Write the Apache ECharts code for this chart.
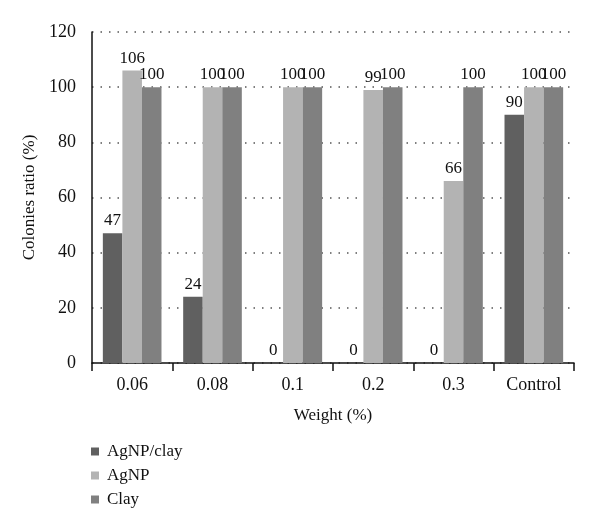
<!DOCTYPE html>
<html><head><meta charset="utf-8">
<script src="https://cdn.jsdelivr.net/npm/echarts@6/dist/echarts.min.js"></script>
<style>html,body{margin:0;padding:0;background:#fff}#c{width:600px;height:532px}</style>
</head><body><div id="c"></div>
<script>
const categories = ['0.06', '0.08', '0.1', '0.2', '0.3', 'Control'];
const agnpClay = [47, 24, 0, 0, 0, 90];
const agnp = [106, 100, 100, 99, 66, 100];
const clay = [100, 100, 100, 100, 100, 100];
const yTicks = [0, 20, 40, 60, 80, 100, 120];

const font = 'Liberation Serif';
const chart = echarts.init(document.getElementById('c'));
const lbl = {show: true, position: 'top', distance: 4, color: '#111', fontFamily: font, fontSize: 17};
chart.setOption({
  animation: false,
  textStyle: {fontFamily: font},
  grid: {left: 92, right: 26, top: 32, bottom: 169, containLabel: false},
  legend: {
    orient: 'vertical', left: 86, top: 438, itemWidth: 8, itemHeight: 8, itemGap: 7, icon: 'rect',
    textStyle: {fontFamily: font, fontSize: 17, color: '#111', padding: [0, 0, 0, 3]},
    data: ['AgNP/clay', 'AgNP', 'Clay']
  },
  xAxis: {
    type: 'category', data: categories,
    name: 'Weight (%)', nameLocation: 'middle', nameGap: 44,
    nameTextStyle: {fontFamily: font, fontSize: 17, color: '#111'},
    axisLine: {lineStyle: {color: '#111', width: 1.5}},
    axisTick: {show: true, length: 8, lineStyle: {color: '#111', width: 1.5}},
    axisLabel: {fontFamily: font, fontSize: 18, color: '#111', margin: 13}
  },
  yAxis: {
    type: 'value', min: yTicks[0], max: yTicks[yTicks.length - 1], interval: 20,
    name: 'Colonies ratio (%)', nameLocation: 'middle', nameGap: 52,
    nameTextStyle: {fontFamily: font, fontSize: 17, color: '#111'},
    axisLine: {show: true, lineStyle: {color: '#111', width: 1.5}},
    axisTick: {show: false},
    axisLabel: {fontFamily: font, fontSize: 18, color: '#111', margin: 16},
    splitLine: {show: true, lineStyle: {color: '#555', width: 1.5, type: [1.5, 7]}}
  },
  series: [
    {name: 'AgNP/clay', type: 'bar', data: agnpClay, barGap: '0%', barCategoryGap: '27%',
     itemStyle: {color: '#606060'}, label: lbl},
    {name: 'AgNP', type: 'bar', data: agnp, itemStyle: {color: '#b3b3b3'}, label: lbl},
    {name: 'Clay', type: 'bar', data: clay, itemStyle: {color: '#808080'}, label: lbl}
  ]
});
</script></body></html>
